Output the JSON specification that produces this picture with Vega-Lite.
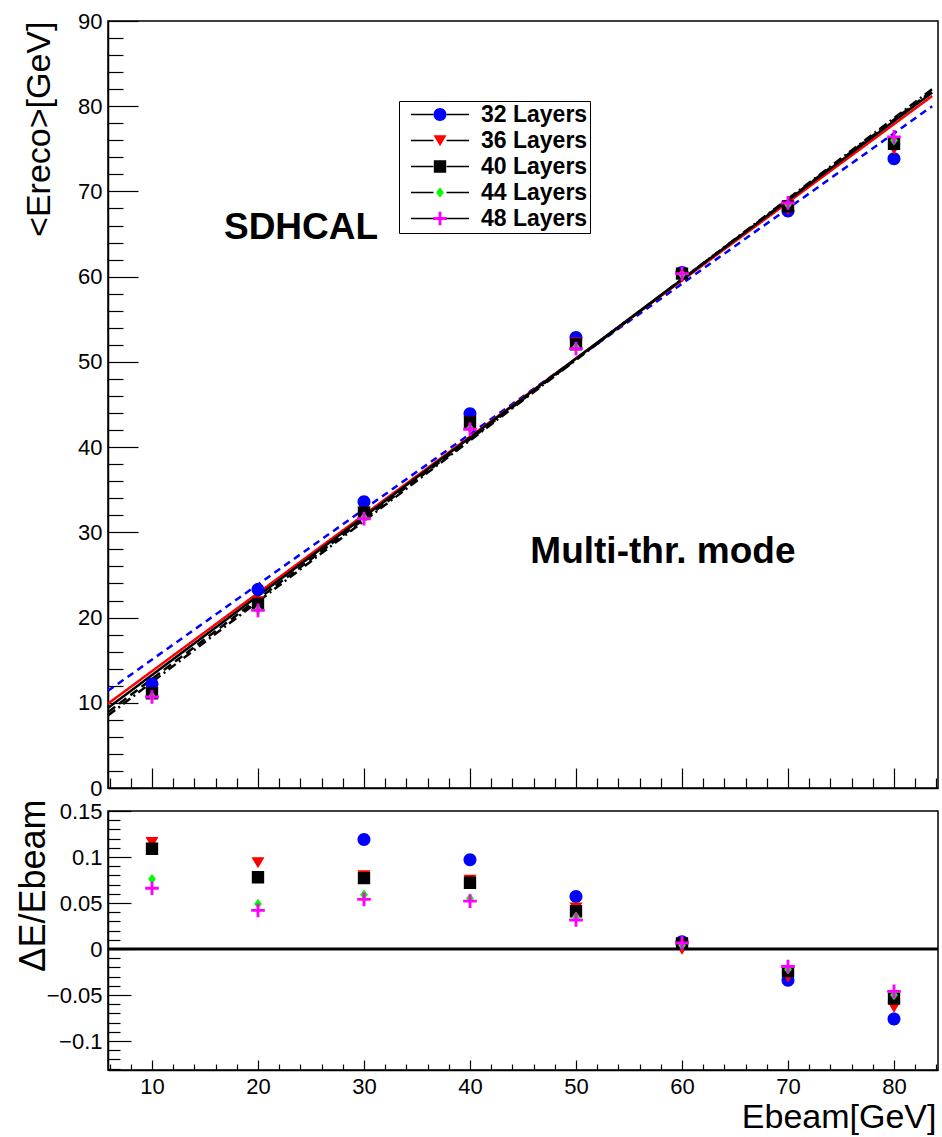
{
  "$schema": "https://vega.github.io/schema/vega-lite/v6.json",
  "background": "white",
  "padding": {"left": 14, "top": 9, "right": 5, "bottom": 0},
  "config": {
    "font": "Liberation Sans",
    "view": {"stroke": "black", "strokeWidth": 1.5},
    "axis": {"domainColor": "black", "domainWidth": 1.5, "tickColor": "black", "tickWidth": 1.2, "labelColor": "black", "labelFont": "Liberation Sans", "labelFontSize": 22, "titleFont": "Liberation Sans", "titleFontWeight": "normal", "titleColor": "black", "grid": false, "labelAngle": 0, "labelFlush": false, "labelOverlap": false, "tickCount": 200}
  },
  "datasets": {
    "pts": [
      {"E": 10, "layers": "32 Layers", "reco": 12.2, "rel": 0.22},
      {"E": 20, "layers": "32 Layers", "reco": 23.3, "rel": 0.165},
      {"E": 30, "layers": "32 Layers", "reco": 33.6, "rel": 0.119},
      {"E": 40, "layers": "32 Layers", "reco": 43.9, "rel": 0.097},
      {"E": 50, "layers": "32 Layers", "reco": 52.85, "rel": 0.057},
      {"E": 60, "layers": "32 Layers", "reco": 60.5, "rel": 0.008},
      {"E": 70, "layers": "32 Layers", "reco": 67.7, "rel": -0.034},
      {"E": 80, "layers": "32 Layers", "reco": 73.85, "rel": -0.076},
      {"E": 10, "layers": "36 Layers", "reco": 11.18, "rel": 0.116},
      {"E": 20, "layers": "36 Layers", "reco": 21.9, "rel": 0.094},
      {"E": 30, "layers": "36 Layers", "reco": 32.4, "rel": 0.08},
      {"E": 40, "layers": "36 Layers", "reco": 43.0, "rel": 0.075},
      {"E": 50, "layers": "36 Layers", "reco": 52.25, "rel": 0.045},
      {"E": 60, "layers": "36 Layers", "reco": 60.0, "rel": 0.0},
      {"E": 70, "layers": "36 Layers", "reco": 67.9, "rel": -0.03},
      {"E": 80, "layers": "36 Layers", "reco": 75.0, "rel": -0.063},
      {"E": 10, "layers": "40 Layers", "reco": 11.1, "rel": 0.109},
      {"E": 20, "layers": "40 Layers", "reco": 21.6, "rel": 0.078},
      {"E": 30, "layers": "40 Layers", "reco": 32.3, "rel": 0.077},
      {"E": 40, "layers": "40 Layers", "reco": 42.9, "rel": 0.072},
      {"E": 50, "layers": "40 Layers", "reco": 52.05, "rel": 0.041},
      {"E": 60, "layers": "40 Layers", "reco": 60.35, "rel": 0.006},
      {"E": 70, "layers": "40 Layers", "reco": 68.25, "rel": -0.024},
      {"E": 80, "layers": "40 Layers", "reco": 75.6, "rel": -0.054},
      {"E": 10, "layers": "44 Layers", "reco": 10.75, "rel": 0.076},
      {"E": 20, "layers": "44 Layers", "reco": 20.95, "rel": 0.049},
      {"E": 30, "layers": "44 Layers", "reco": 31.75, "rel": 0.059},
      {"E": 40, "layers": "44 Layers", "reco": 42.2, "rel": 0.055},
      {"E": 50, "layers": "44 Layers", "reco": 51.75, "rel": 0.035},
      {"E": 60, "layers": "44 Layers", "reco": 60.25, "rel": 0.004},
      {"E": 70, "layers": "44 Layers", "reco": 68.45, "rel": -0.022},
      {"E": 80, "layers": "44 Layers", "reco": 76.0, "rel": -0.05},
      {"E": 10, "layers": "48 Layers", "reco": 10.68, "rel": 0.066},
      {"E": 20, "layers": "48 Layers", "reco": 20.85, "rel": 0.042},
      {"E": 30, "layers": "48 Layers", "reco": 31.6, "rel": 0.054},
      {"E": 40, "layers": "48 Layers", "reco": 42.1, "rel": 0.052},
      {"E": 50, "layers": "48 Layers", "reco": 51.55, "rel": 0.0315},
      {"E": 60, "layers": "48 Layers", "reco": 60.35, "rel": 0.0065},
      {"E": 70, "layers": "48 Layers", "reco": 68.65, "rel": -0.019},
      {"E": 80, "layers": "48 Layers", "reco": 76.4, "rel": -0.046}
    ],
    "fits": [
      {"layers": "32 Layers", "E": 5.85, "fit": 11.4},
      {"layers": "32 Layers", "E": 83.6, "fit": 80.0},
      {"layers": "36 Layers", "E": 5.85, "fit": 9.9},
      {"layers": "36 Layers", "E": 83.6, "fit": 81.2},
      {"layers": "40 Layers", "E": 5.85, "fit": 9.4},
      {"layers": "40 Layers", "E": 83.6, "fit": 81.6},
      {"layers": "44 Layers", "E": 5.85, "fit": 8.9},
      {"layers": "44 Layers", "E": 83.6, "fit": 81.8},
      {"layers": "48 Layers", "E": 5.85, "fit": 8.5},
      {"layers": "48 Layers", "E": 83.6, "fit": 82.0}
    ]
  },
  "spacing": -2,
  "resolve": {"scale": {"color": "independent", "shape": "independent", "stroke": "independent", "strokeDash": "independent"}, "legend": {"color": "independent", "shape": "independent"}},
  "vconcat": [
    {
      "width": 830,
      "height": 767,
      "layer": [
        {
          "data": {"name": "fits"},
          "mark": {"type": "line", "strokeWidth": 2.5},
          "encoding": {
            "x": {"field": "E", "type": "quantitative", "scale": {"domain": [5.85, 84.15], "nice": false, "zero": false},
              "axis": {"values": [6,8,10,12,14,16,18,20,22,24,26,28,30,32,34,36,38,40,42,44,46,48,50,52,54,56,58,60,62,64,66,68,70,72,74,76,78,80,82,84], "labels": false, "title": null, "tickCount": 200,
                "tickSize": {"condition": {"test": "datum.value % 10 === 0", "value": -20}, "value": -10}}},
            "y": {"field": "fit", "type": "quantitative", "scale": {"domain": [0, 90], "nice": false, "zero": false},
              "axis": {"values": [0,2,4,6,8,10,12,14,16,18,20,22,24,26,28,30,32,34,36,38,40,42,44,46,48,50,52,54,56,58,60,62,64,66,68,70,72,74,76,78,80,82,84,86,88,90], "tickCount": 200,
                "labelExpr": "datum.value % 10 === 0 ? format(datum.value, 'd') : ''",
                "tickSize": {"condition": {"test": "datum.value % 10 === 0", "value": -30}, "value": -15},
                "labelPadding": 36,
                "title": "<Ereco>[GeV]", "titleFontSize": 34, "titleAngle": 270, "titleAlign": "right", "titleBaseline": "alphabetic", "titleX": -59, "titleY": 0}},
            "detail": {"field": "layers", "type": "nominal"},
            "stroke": {"field": "layers", "type": "nominal", "scale": {"range": ["#0000ff", "#ff0000", "#000000", "#000000", "#000000"]}, "legend": null},
            "strokeDash": {"field": "layers", "type": "nominal", "scale": {"range": [[7, 5], [1, 0], [1, 0], [9, 5], [9, 4, 2, 4]]}, "legend": null}
          }
        },
        {
          "data": {"name": "pts"},
          "mark": {"type": "point", "filled": true, "size": 169, "opacity": 1},
          "encoding": {
            "x": {"field": "E", "type": "quantitative"},
            "y": {"field": "reco", "type": "quantitative"},
            "color": {"field": "layers", "type": "nominal",
              "scale": {"domain": ["32 Layers", "36 Layers", "40 Layers", "44 Layers", "48 Layers"], "range": ["#0000ff", "#ff0000", "#000000", "#00ff00", "#ff00ff"]},
              "legend": {"orient": "none", "legendX": 291, "legendY": 80, "title": null, "labelFont": "Liberation Sans", "labelFontWeight": "bold", "labelFontSize": 23, "labelColor": "black", "symbolSize": 169, "symbolStrokeColor": "black", "symbolStrokeWidth": 1.5, "symbolDash": [22.5, 13, 22.5, 5000], "symbolOpacity": 1, "symbolOffset": 27.5, "labelOffset": 29.5, "padding": 2, "rowPadding": 2, "strokeColor": "black", "fillColor": "white", "labelExpr": "datum.label + '\u00a0\u00a0'",
                "encode": {"symbols": {"update": {"stroke": {"value": "black"}, "strokeWidth": {"value": 1.5}, "strokeDash": {"value": [22.5, 13, 22.5, 5000]}}}}}},
            "shape": {"field": "layers", "type": "nominal",
              "scale": {"domain": ["32 Layers", "36 Layers", "40 Layers", "44 Layers", "48 Layers"],
                "range": [
                  "M-4.46,0H4.46L1,0A1,1,0,1,1,-1,0A1,1,0,1,1,1,0Z",
                  "M-4.46,0H4.46L0.529,0L1,-0.8L-1,-0.8L0,0.9L0.529,0Z",
                  "M-4.46,0H4.46L0.95,0L0.95,0.95L-0.95,0.95L-0.95,-0.95L0.95,-0.95L0.95,0Z",
                  "M-4.46,0H4.46L0.6,0L0,0.8L-0.6,0L0,-0.8L0.6,0Z",
                  "M-4.46,0H4.46L1.05,0L1.05,0.22L0.22,0.22L0.22,1.05L-0.22,1.05L-0.22,0.22L-1.05,0.22L-1.05,-0.22L-0.22,-0.22L-0.22,-1.05L0.22,-1.05L0.22,-0.22L1.05,-0.22L1.05,0Z"
                ]},
              "legend": {"orient": "none", "legendX": 291, "legendY": 80, "title": null, "labelFont": "Liberation Sans", "labelFontWeight": "bold", "labelFontSize": 23, "labelColor": "black", "symbolSize": 169, "symbolStrokeColor": "black", "symbolStrokeWidth": 1.5, "symbolDash": [22.5, 13, 22.5, 5000], "symbolOpacity": 1, "symbolOffset": 27.5, "labelOffset": 29.5, "padding": 2, "rowPadding": 2, "strokeColor": "black", "fillColor": "white", "labelExpr": "datum.label + '\u00a0\u00a0'",
                "encode": {"symbols": {"update": {"stroke": {"value": "black"}, "strokeWidth": {"value": 1.5}, "strokeDash": {"value": [22.5, 13, 22.5, 5000]}}}}}}
          }
        },
        {
          "data": {"values": [{"t": "SDHCAL"}]},
          "mark": {"type": "text", "font": "Liberation Sans", "fontWeight": "bold", "fontSize": 37, "align": "center", "baseline": "middle", "color": "black"},
          "encoding": {"text": {"field": "t"}, "x": {"datum": 24.06}, "y": {"datum": 65.7}}
        },
        {
          "data": {"values": [{"t": "Multi-thr. mode"}]},
          "mark": {"type": "text", "font": "Liberation Sans", "fontWeight": "bold", "fontSize": 37, "align": "center", "baseline": "middle", "color": "black"},
          "encoding": {"text": {"field": "t"}, "x": {"datum": 58.2}, "y": {"datum": 27.7}}
        }
      ]
    },
    {
      "width": 830,
      "height": 259,
      "layer": [
        {
          "data": {"values": [{}]},
          "mark": {"type": "rule", "color": "black", "strokeWidth": 3},
          "encoding": {"y": {"datum": 0}}
        },
        {
          "data": {"name": "pts"},
          "mark": {"type": "point", "filled": true, "size": 169, "opacity": 1, "clip": true},
          "encoding": {
            "x": {"field": "E", "type": "quantitative", "scale": {"domain": [5.85, 84.15], "nice": false, "zero": false},
              "axis": {"values": [6,8,10,12,14,16,18,20,22,24,26,28,30,32,34,36,38,40,42,44,46,48,50,52,54,56,58,60,62,64,66,68,70,72,74,76,78,80,82,84], "tickCount": 200,
                "labelExpr": "datum.value % 10 === 0 ? format(datum.value, 'd') : ''",
                "tickSize": {"condition": {"test": "datum.value % 10 === 0", "value": -10}, "value": -6},
                "labelPadding": 16,
                "title": "Ebeam[GeV]", "titleFontSize": 34, "titleAlign": "right", "titleAnchor": "end", "titleBaseline": "alphabetic", "titleX": 828, "titleY": 57}},
            "y": {"field": "rel", "type": "quantitative", "scale": {"domain": [-0.1315, 0.15], "nice": false, "zero": false},
              "axis": {"values": [-0.13,-0.12,-0.11,-0.1,-0.09,-0.08,-0.07,-0.06,-0.05,-0.04,-0.03,-0.02,-0.01,0,0.01,0.02,0.03,0.04,0.05,0.06,0.07,0.08,0.09,0.1,0.11,0.12,0.13,0.14,0.15], "tickCount": 200,
                "labelExpr": "abs(round(datum.value*100)) % 5 === 0 ? format(datum.value, '~g') : ''",
                "tickSize": {"condition": {"test": "abs(round(datum.value*100)) % 5 === 0", "value": -23}, "value": -12},
                "labelPadding": 29,
                "title": "ΔE/Ebeam", "titleFontSize": 36, "titleAngle": 270, "titleAlign": "right", "titleBaseline": "alphabetic", "titleX": -64, "titleY": -12}},
            "color": {"field": "layers", "type": "nominal", "scale": {"domain": ["32 Layers", "36 Layers", "40 Layers", "44 Layers", "48 Layers"], "range": ["#0000ff", "#ff0000", "#000000", "#00ff00", "#ff00ff"]}, "legend": null},
            "shape": {"field": "layers", "type": "nominal",
              "scale": {"domain": ["32 Layers", "36 Layers", "40 Layers", "44 Layers", "48 Layers"],
                "range": [
                  "M-4.46,0H4.46L1,0A1,1,0,1,1,-1,0A1,1,0,1,1,1,0Z",
                  "M-4.46,0H4.46L0.529,0L1,-0.8L-1,-0.8L0,0.9L0.529,0Z",
                  "M-4.46,0H4.46L0.95,0L0.95,0.95L-0.95,0.95L-0.95,-0.95L0.95,-0.95L0.95,0Z",
                  "M-4.46,0H4.46L0.6,0L0,0.8L-0.6,0L0,-0.8L0.6,0Z",
                  "M-4.46,0H4.46L1.05,0L1.05,0.22L0.22,0.22L0.22,1.05L-0.22,1.05L-0.22,0.22L-1.05,0.22L-1.05,-0.22L-0.22,-0.22L-0.22,-1.05L0.22,-1.05L0.22,-0.22L1.05,-0.22L1.05,0Z"
                ]},
              "legend": null}
          }
        }
      ]
    }
  ]
}
